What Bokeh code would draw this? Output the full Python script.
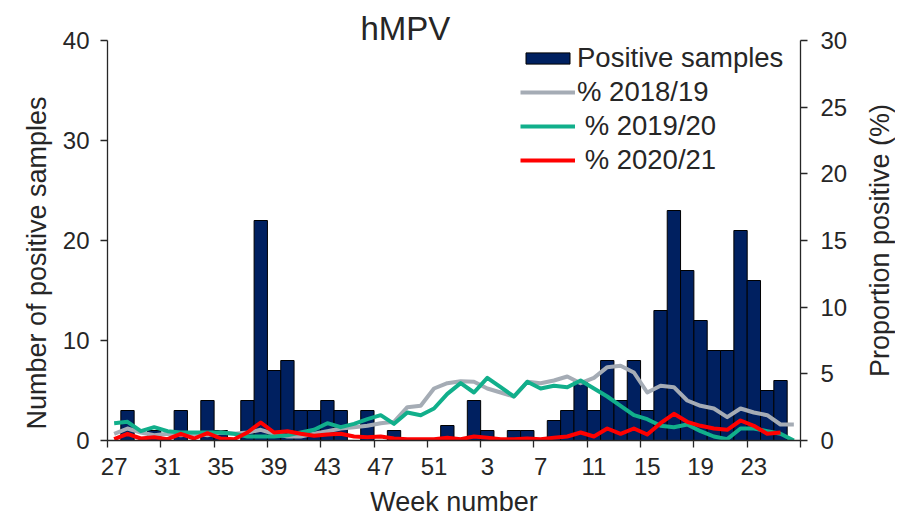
from bokeh.plotting import figure
from bokeh.layouts import row
from bokeh.models import (Range1d, LinearAxis, FixedTicker, Legend, LegendItem, ColumnDataSource)
from bokeh.embed import file_html
from bokeh.resources import INLINE

# ---------------- data ----------------
weeks = list(range(27, 53)) + list(range(1, 27))

positive_samples = [0, 3, 0, 1, 0, 3, 0, 4, 1, 0, 4, 22, 7, 8, 3, 3, 4, 3, 0, 3, 0, 1, 0, 0, 0, 1.5,
                    0, 4, 1, 0, 1, 1, 0, 2, 3, 6, 3, 8, 4, 8, 3, 13, 23, 17, 12, 9, 9, 21, 16, 5, 6, 0]

pct_2018_19 = [0.5, 0.9, 0.6, 0.4, 0.5, 0.4, 0.5, 0.4, 0.6, 0.5, 0.6, 0.8, 0.5, 0.3, 0.3, 0.5, 0.7, 0.9,
               1.0, 1.1, 1.3, 1.4, 2.5, 2.6, 3.9, 4.3,
               4.45, 4.4, 3.9, 3.6, 3.3, 4.4, 4.3, 4.5, 4.8, 4.3, 4.7, 5.5, 5.6, 5.1, 3.6, 4.1, 4.0,
               3.0, 2.6, 2.4, 1.75, 2.4, 2.1, 1.9, 1.2, 1.2]

pct_2019_20 = [1.3, 1.4, 0.7, 1.0, 0.7, 0.6, 0.6, 0.6, 0.6, 0.5, 0.3, 0.3, 0.3, 0.4, 0.6, 0.8, 1.3, 1.0,
               1.25, 1.6, 1.9, 1.25, 2.1, 1.9, 2.4, 3.5,
               4.3, 3.6, 4.7, 4.0, 3.3, 4.4, 3.9, 4.1, 4.0, 4.5, 3.9, 3.3, 2.6, 1.9, 1.6, 1.1, 1.0,
               1.2, 0.7, 0.3, 0.1, 0.9, 0.9, 0.7, 0.5, 0.0]

pct_2020_21 = [0.1, 0.5, 0.15, 0.25, 0.1, 0.5, 0.15, 0.55, 0.15, 0.1, 0.6, 1.35, 0.6, 0.7, 0.5, 0.35,
               0.45, 0.5, 0.3, 0.25, 0.3, 0.15, 0.1, 0.1, 0.1, 0.2,
               0.1, 0.3, 0.2, 0.1, 0.1, 0.15, 0.1, 0.2, 0.3, 0.6, 0.3, 0.9, 0.5, 0.9, 0.45, 1.3, 2.0,
               1.4, 1.1, 0.9, 0.8, 1.5, 1.1, 0.5, 0.6, float("nan")]

left_ticks = [0, 10, 20, 30, 40]
right_ticks = [0, 5, 10, 15, 20, 25, 30]
tick_every = 4

# ---------------- styles ----------------
FONT = "Liberation Sans"
TXT = "#262626"
AX = "#262626"
BAR = "#002060"
C_GREY = "#A5ACB5"
C_GREEN = "#11AF8B"
C_RED = "#FF0000"

FRAME_H = 400
TOP, BOTTOM = 40, 77

idx = list(range(len(weeks)))
src = ColumnDataSource(dict(x=idx, n=positive_samples, g=pct_2018_19, gr=pct_2019_20, r=pct_2020_21))

p = figure(frame_width=693, frame_height=FRAME_H,
           x_range=Range1d(-0.5, len(weeks) - 0.5), y_range=Range1d(0, 40),
           output_backend="svg", toolbar_location=None,
           min_border_left=107, min_border_right=52, min_border_top=TOP, min_border_bottom=BOTTOM)
p.outline_line_color = None
p.xgrid.visible = False
p.ygrid.visible = False
p.background_fill_color = "white"
p.border_fill_color = "white"

p.title.text = "hMPV"
p.title.align = "left"
p.title.offset = 253
p.title.standoff = -12
p.title.text_font = FONT
p.title.text_font_size = "33px"
p.title.text_font_style = "normal"
p.title.text_color = TXT

p.extra_y_ranges = {"pct": Range1d(0, 30)}

bars = p.vbar(x="x", top="n", width=1.0, source=src, fill_color=BAR, line_color="black", line_width=1)
l1 = p.line(x="x", y="g", source=src, y_range_name="pct", line_color=C_GREY, line_width=4, line_join="round")
l2 = p.line(x="x", y="gr", source=src, y_range_name="pct", line_color=C_GREEN, line_width=4, line_join="round")
l3 = p.line(x="x", y="r", source=src, y_range_name="pct", line_color=C_RED, line_width=4, line_join="round")

# x axis: labels at category centres, tick marks at category boundaries
major = [i for i in idx if i % tick_every == 0]
minor = [i - 0.5 for i in range(0, len(weeks) + 1, tick_every)]
xa = p.xaxis[0]
xa.ticker = FixedTicker(ticks=major, minor_ticks=minor)
xa.major_label_overrides = {i: str(weeks[i]) for i in major}
xa.major_tick_line_color = None
xa.major_tick_out = 0
xa.major_tick_in = 0
xa.minor_tick_line_color = AX
xa.minor_tick_line_width = 1.3
xa.minor_tick_out = 7
xa.minor_tick_in = 0
xa.major_label_standoff = 10
xa.axis_label = "Week number"
xa.axis_label_standoff = 9

ya = p.yaxis[0]
ya.ticker = FixedTicker(ticks=left_ticks)
ya.minor_tick_line_color = None
ya.major_tick_out = 7
ya.major_tick_in = 0
ya.major_label_standoff = 11
# trailing no-break spaces push the title a little below mid-height, as in the original
ya.axis_label = "Number of positive samples" + "\u00a0" * 6
ya.axis_label_standoff = 8

ra = LinearAxis(y_range_name="pct", ticker=FixedTicker(ticks=right_ticks))
ra.minor_tick_line_color = None
ra.major_tick_out = 7
ra.major_tick_in = 0
ra.major_label_standoff = 13
p.add_layout(ra, "right")

for ax in (xa, ya, ra):
    ax.axis_line_color = AX
    ax.axis_line_width = 1.3
    ax.major_tick_line_width = 1.3
    ax.major_label_text_font = FONT
    ax.major_label_text_font_size = "24px"
    ax.major_label_text_color = TXT
    ax.axis_label_text_font = FONT
    ax.axis_label_text_font_size = "27px"
    ax.axis_label_text_font_style = "normal"
    ax.axis_label_text_color = TXT
ya.major_tick_line_color = AX
ra.major_tick_line_color = AX

legend = Legend(items=[LegendItem(label="Positive samples", renderers=[bars]),
                       LegendItem(label="% 2018/19", renderers=[l1]),
                       LegendItem(label="\u00a0% 2019/20", renderers=[l2]),
                       LegendItem(label="\u00a0% 2020/21", renderers=[l3])],
                location=(413, 264))
legend.border_line_color = None
legend.background_fill_alpha = 0
legend.padding = 0
legend.margin = 0
legend.spacing = 2
legend.glyph_width = 55
legend.glyph_height = 14
legend.label_standoff = 2
legend.label_text_font = FONT
legend.label_text_font_size = "27.5px"
legend.label_text_color = TXT
p.add_layout(legend)

# narrow companion panel carrying the right-hand axis title (reads bottom-to-top)
p2 = figure(frame_width=1, frame_height=FRAME_H, x_range=Range1d(0, 1), y_range=Range1d(0, 30),
            output_backend="svg", toolbar_location=None,
            min_border_left=42, min_border_right=0, min_border_top=TOP, min_border_bottom=BOTTOM)
p2.outline_line_color = None
p2.xgrid.visible = False
p2.ygrid.visible = False
p2.xaxis.visible = False
p2.background_fill_color = "white"
p2.border_fill_color = "white"
ax2 = p2.yaxis[0]
ax2.ticker = FixedTicker(ticks=[])
ax2.axis_line_color = None
ax2.major_tick_line_color = None
ax2.minor_tick_line_color = None
ax2.major_tick_out = 0
ax2.major_label_standoff = 0
ax2.axis_label = "Proportion positive (%)"
ax2.axis_label_standoff = 0
ax2.axis_label_text_font = FONT
ax2.axis_label_text_font_size = "27px"
ax2.axis_label_text_font_style = "normal"
ax2.axis_label_text_color = TXT

layout = row(p, p2, spacing=0)

open("out.html", "w").write(file_html(layout, INLINE))
